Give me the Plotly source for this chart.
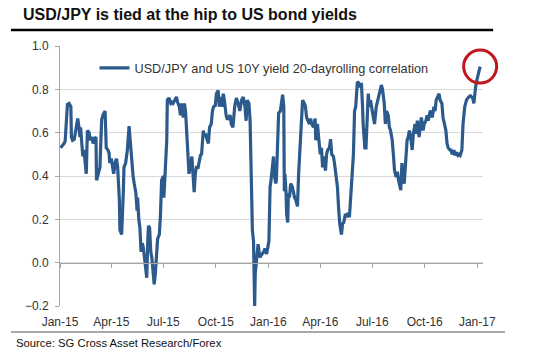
import plotly.graph_objects as go

# ---------------- data ----------------
dates = [
    "2015-01-02","2015-01-06","2015-01-08","2015-01-10","2015-01-12","2015-01-14","2015-01-17","2015-01-20",
    "2015-01-21","2015-01-23","2015-01-26","2015-01-28","2015-01-30","2015-02-01","2015-02-03","2015-02-05",
    "2015-02-06","2015-02-08","2015-02-10","2015-02-12","2015-02-14","2015-02-16","2015-02-18","2015-02-21",
    "2015-02-23","2015-02-26","2015-02-28","2015-03-02","2015-03-05","2015-03-06","2015-03-09","2015-03-12",
    "2015-03-13","2015-03-15","2015-03-17","2015-03-21","2015-03-23","2015-03-26","2015-03-28","2015-03-29",
    "2015-04-01","2015-04-03","2015-04-05","2015-04-08","2015-04-10","2015-04-12","2015-04-15","2015-04-16",
    "2015-04-19","2015-04-22","2015-04-23","2015-04-26","2015-04-29","2015-05-02","2015-05-04","2015-05-07",
    "2015-05-09","2015-05-11","2015-05-14","2015-05-16","2015-05-17","2015-05-19","2015-05-21","2015-05-23",
    "2015-05-25","2015-05-27","2015-05-29","2015-05-31","2015-06-02","2015-06-04","2015-06-05","2015-06-07",
    "2015-06-09","2015-06-11","2015-06-13","2015-06-15","2015-06-17","2015-06-19","2015-06-21","2015-06-24",
    "2015-06-26","2015-06-28","2015-07-01","2015-07-02","2015-07-04","2015-07-07","2015-07-08","2015-07-11",
    "2015-07-14","2015-07-16","2015-07-18","2015-07-21","2015-07-24","2015-07-26","2015-07-29","2015-07-31",
    "2015-08-02","2015-08-05","2015-08-07","2015-08-09","2015-08-12","2015-08-14","2015-08-15","2015-08-18",
    "2015-08-20","2015-08-22","2015-08-24","2015-08-26","2015-08-28","2015-08-31","2015-09-02","2015-09-04",
    "2015-09-06","2015-09-09","2015-09-11","2015-09-13","2015-09-16","2015-09-18","2015-09-20","2015-09-23",
    "2015-09-25","2015-09-27","2015-09-30","2015-10-02","2015-10-05","2015-10-07","2015-10-09","2015-10-12",
    "2015-10-14","2015-10-16","2015-10-19","2015-10-21","2015-10-23","2015-10-26","2015-10-28","2015-10-31",
    "2015-11-03","2015-11-06","2015-11-09","2015-11-12","2015-11-15","2015-11-18","2015-11-21","2015-11-23",
    "2015-11-25","2015-11-28","2015-11-30","2015-12-01","2015-12-04","2015-12-06","2015-12-07","2015-12-08",
    "2015-12-09","2015-12-12","2015-12-14","2015-12-17","2015-12-19","2015-12-21","2015-12-24","2015-12-26",
    "2015-12-29","2015-12-31","2016-01-02","2016-01-04","2016-01-05","2016-01-08","2016-01-10","2016-01-11",
    "2016-01-14","2016-01-15","2016-01-17","2016-01-19","2016-01-22","2016-01-24","2016-01-26","2016-01-28",
    "2016-01-29","2016-01-30","2016-02-01","2016-02-02","2016-02-04","2016-02-05","2016-02-07","2016-02-09",
    "2016-02-12","2016-02-14","2016-02-16","2016-02-18","2016-02-21","2016-02-23","2016-02-26","2016-02-28",
    "2016-03-01","2016-03-04","2016-03-06","2016-03-08","2016-03-11","2016-03-13","2016-03-15","2016-03-17",
    "2016-03-20","2016-03-23","2016-03-24","2016-03-27","2016-03-29","2016-04-01","2016-04-03","2016-04-05",
    "2016-04-07","2016-04-10","2016-04-12","2016-04-14","2016-04-17","2016-04-19","2016-04-21","2016-04-24",
    "2016-04-26","2016-04-28","2016-05-01","2016-05-03","2016-05-05","2016-05-08","2016-05-10","2016-05-12",
    "2016-05-15","2016-05-17","2016-05-19","2016-05-22","2016-05-24","2016-05-26","2016-05-29","2016-05-31",
    "2016-06-02","2016-06-05","2016-06-07","2016-06-10","2016-06-12","2016-06-14","2016-06-15","2016-06-18",
    "2016-06-20","2016-06-21","2016-06-24","2016-06-26","2016-06-28","2016-07-01","2016-07-03","2016-07-05",
    "2016-07-08","2016-07-10","2016-07-12","2016-07-15","2016-07-17","2016-07-19","2016-07-22","2016-07-24",
    "2016-07-26","2016-07-29","2016-07-31","2016-08-02","2016-08-05","2016-08-07","2016-08-09","2016-08-12",
    "2016-08-14","2016-08-16","2016-08-19","2016-08-20","2016-08-22","2016-08-24","2016-08-26","2016-08-29",
    "2016-08-31","2016-09-02","2016-09-04","2016-09-07","2016-09-09","2016-09-11","2016-09-14","2016-09-16",
    "2016-09-18","2016-09-21","2016-09-23","2016-09-25","2016-09-28","2016-09-30","2016-10-03","2016-10-05",
    "2016-10-07","2016-10-10","2016-10-12","2016-10-14","2016-10-17","2016-10-19","2016-10-21","2016-10-24",
    "2016-10-26","2016-10-28","2016-10-31","2016-11-02","2016-11-04","2016-11-07","2016-11-09","2016-11-11",
    "2016-11-14","2016-11-16","2016-11-18","2016-11-21","2016-11-23","2016-11-25","2016-11-28","2016-11-30",
    "2016-12-02","2016-12-05","2016-12-07","2016-12-08","2016-12-10","2016-12-13","2016-12-15","2016-12-17",
    "2016-12-20","2016-12-22","2016-12-24","2016-12-26","2016-12-27","2016-12-29","2016-12-31","2017-01-03",
    "2017-01-05","2017-01-06",
]

correlation = [
    0.53, 0.54, 0.55, 0.56, 0.63, 0.73, 0.735, 0.72,
    0.58, 0.565, 0.57, 0.61, 0.65, 0.665, 0.63, 0.58,
    0.625, 0.565, 0.49, 0.52, 0.47, 0.41, 0.61, 0.60,
    0.565, 0.58, 0.55, 0.57, 0.58, 0.38, 0.41, 0.44,
    0.52, 0.66, 0.68, 0.70, 0.53, 0.52, 0.505, 0.46,
    0.48, 0.44, 0.41, 0.465, 0.48, 0.44, 0.29, 0.15,
    0.13, 0.33, 0.44, 0.46, 0.52, 0.63, 0.565, 0.43,
    0.40, 0.365, 0.32, 0.24, 0.30, 0.20, 0.16, 0.05,
    0.09, 0.07, 0.03, -0.03, -0.07, 0.12, 0.17, 0.16,
    0.05, 0.02, -0.05, -0.10, -0.05, 0.01, 0.11, 0.13,
    0.22, 0.38, 0.40, 0.30, 0.41, 0.565, 0.75, 0.76,
    0.735, 0.74, 0.735, 0.75, 0.765, 0.74, 0.72, 0.68,
    0.735, 0.67, 0.735, 0.695, 0.52, 0.44, 0.41, 0.455,
    0.49, 0.41, 0.325, 0.41, 0.44, 0.44, 0.47, 0.495,
    0.50, 0.61, 0.58, 0.595, 0.565, 0.55, 0.625, 0.64,
    0.70, 0.72, 0.725, 0.78, 0.795, 0.72, 0.765, 0.72,
    0.78, 0.75, 0.68, 0.66, 0.67, 0.68, 0.64, 0.625,
    0.72, 0.76, 0.735, 0.70, 0.75, 0.765, 0.72, 0.655,
    0.75, 0.735, 0.655, 0.49, 0.15, 0.10, -0.05, -0.20,
    -0.05, 0.04, 0.085, 0.025, 0.03, 0.04, 0.05, 0.065,
    0.04, 0.07, 0.10, 0.35, 0.365, 0.44, 0.49, 0.41,
    0.365, 0.38, 0.50, 0.69, 0.70, 0.735, 0.775, 0.72,
    0.33, 0.41, 0.32, 0.225, 0.185, 0.32, 0.30, 0.365,
    0.35, 0.32, 0.30, 0.29, 0.26, 0.41, 0.565, 0.625,
    0.75, 0.735, 0.72, 0.67, 0.655, 0.64, 0.665, 0.64,
    0.625, 0.665, 0.565, 0.64, 0.58, 0.50, 0.53, 0.44,
    0.49, 0.425, 0.50, 0.52, 0.53, 0.57, 0.50, 0.49,
    0.455, 0.41, 0.35, 0.255, 0.18, 0.13, 0.18, 0.185,
    0.225, 0.21, 0.23, 0.21, 0.29, 0.35, 0.50, 0.70,
    0.72, 0.835, 0.83, 0.81, 0.83, 0.72, 0.64, 0.53,
    0.53, 0.595, 0.78, 0.72, 0.75, 0.70, 0.655, 0.64,
    0.72, 0.745, 0.775, 0.795, 0.82, 0.80, 0.735, 0.64,
    0.70, 0.68, 0.625, 0.61, 0.565, 0.50, 0.425, 0.395,
    0.42, 0.38, 0.35, 0.335, 0.46, 0.38, 0.365, 0.53,
    0.565, 0.58, 0.61, 0.565, 0.52, 0.595, 0.64, 0.595,
    0.655, 0.58, 0.625, 0.67, 0.61, 0.64, 0.655, 0.68,
    0.655, 0.695, 0.70, 0.67, 0.72, 0.70, 0.75, 0.765,
    0.78, 0.75, 0.735, 0.67, 0.64, 0.61, 0.55, 0.53,
    0.52, 0.52, 0.50, 0.52, 0.495, 0.51, 0.495, 0.50,
    0.495, 0.52, 0.64, 0.69, 0.72, 0.75, 0.76, 0.765,
    0.77, 0.765, 0.76, 0.735, 0.78, 0.81, 0.84, 0.87,
    0.895, 0.905,
]

x_tick_dates = ["2015-01-01", "2015-04-01", "2015-07-01", "2015-10-01",
                "2016-01-01", "2016-04-01", "2016-07-01", "2016-10-01", "2017-01-01"]
x_tick_labels = ["Jan-15", "Apr-15", "Jul-15", "Oct-15",
                 "Jan-16", "Apr-16", "Jul-16", "Oct-16", "Jan-17"]
y_ticks = [-0.2, 0.0, 0.2, 0.4, 0.6, 0.8, 1.0]
x_range = ["2015-01-01", "2017-01-11"]
y_range = [-0.2, 1.0]

series_name = "USD/JPY and US 10Y yield 20-dayrolling correlation"
title_text = "USD/JPY is tied at the hip to US bond yields"
source_text = "Source: SG Cross Asset Research/Forex"

# ---------------- styling ----------------
FONT = "Arial, 'Liberation Sans', Helvetica, sans-serif"
LINE_BLUE = "#2c5a8c"
AXIS_GREY = "#a6a6a6"
GRID_GREY = "#d9d9d9"
TEXT = "#333333"

fig = go.Figure()

fig.add_trace(go.Scatter(
    x=dates, y=correlation, mode="lines", name=series_name,
    line=dict(color=LINE_BLUE, width=3.2),
))
# invisible carrier trace so the zero-line axis (x2) is drawn
fig.add_trace(go.Scatter(
    x=dates, y=correlation, mode="lines", xaxis="x2", showlegend=False,
    hoverinfo="skip", line=dict(width=0), opacity=0,
))
# red highlight ring on the latest observation
fig.add_trace(go.Scatter(
    x=dates[-1:], y=correlation[-1:], mode="markers", showlegend=False, hoverinfo="skip",
    cliponaxis=False,
    marker=dict(symbol="circle-open", size=33, color="#c0161d", line=dict(width=3, color="#c0161d")),
))

zero_pos = (0 - y_range[0]) / (y_range[1] - y_range[0])

fig.update_layout(
    width=535, height=355, autosize=False,
    margin=dict(l=60, r=52, t=46, b=49),
    paper_bgcolor="white", plot_bgcolor="white",
    font=dict(family=FONT, color=TEXT, size=12),
    showlegend=True,
    legend=dict(x=0.0815, y=0.915, xanchor="left", yanchor="middle",
                bgcolor="rgba(0,0,0,0)", font=dict(size=12.7, color=TEXT),
                itemwidth=30),
    xaxis=dict(type="date", range=x_range, tickvals=x_tick_dates, ticktext=x_tick_labels,
               showgrid=False, showline=False, zeroline=False, ticks="",
               tickfont=dict(size=12, color=TEXT), ticklabelstandoff=7),
    xaxis2=dict(type="date", range=x_range, overlaying="x", anchor="free", position=zero_pos,
                tickvals=x_tick_dates, showticklabels=False, showgrid=False, zeroline=False,
                showline=True, linecolor=AXIS_GREY, linewidth=1,
                ticks="outside", ticklen=4, tickcolor=AXIS_GREY),
    yaxis=dict(range=y_range, tickvals=y_ticks, tickformat=".1f",
               showgrid=True, gridcolor=GRID_GREY, gridwidth=1, zeroline=False,
               showline=True, linecolor=AXIS_GREY, linewidth=1,
               ticks="outside", ticklen=4, tickcolor=AXIS_GREY,
               tickfont=dict(size=12, color=TEXT), ticklabelstandoff=4),
)

# title, rules and source
fig.add_annotation(text="<b>" + title_text + "</b>", xref="paper", yref="paper",
                   x=-0.093, y=1.12, xanchor="left", yanchor="middle", showarrow=False,
                   font=dict(size=16, color="#111111", family=FONT))
fig.add_shape(type="line", xref="paper", yref="paper", x0=-0.116, x1=1.024, y0=1.062, y1=1.062,
              line=dict(color="#000000", width=2.5))
fig.add_shape(type="line", xref="paper", yref="paper", x0=-0.116, x1=1.052, y0=-0.10, y1=-0.10,
              line=dict(color="#555555", width=1.2))
fig.add_annotation(text=source_text, xref="paper", yref="paper",
                   x=-0.109, y=-0.142, xanchor="left", yanchor="middle", showarrow=False,
                   font=dict(size=11.3, color="#111111", family=FONT))

fig.write_html("out.html", config={"displayModeBar": False},
               post_script="document.body.style.margin='0';")
